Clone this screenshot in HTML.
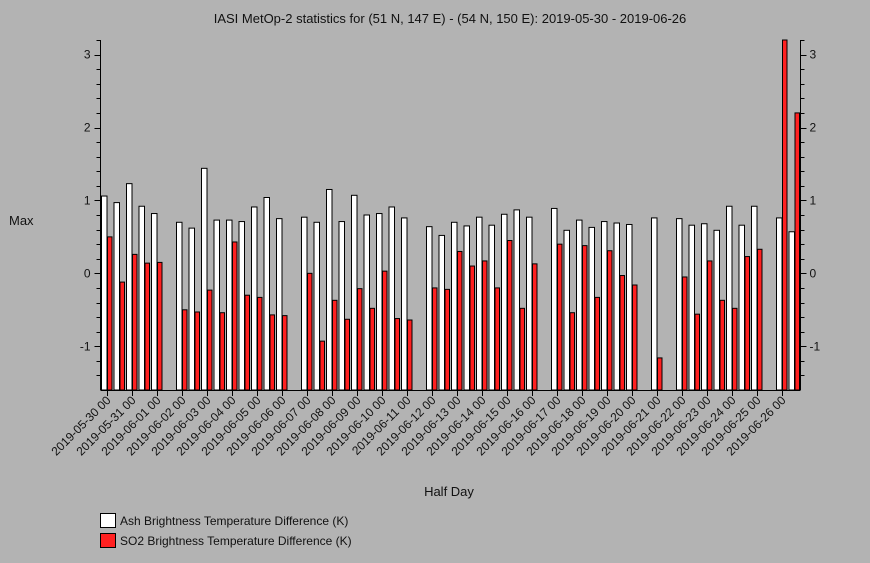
<!DOCTYPE html>
<html><head><meta charset="utf-8"><style>
body{margin:0;background:#b3b3b3;}
svg{display:block;font-family:"Liberation Sans",sans-serif;}
</style></head><body>
<svg id="chart" width="870" height="563">
<rect width="870" height="563" fill="#b3b3b3"/>
<text x="450" y="23" text-anchor="middle" font-size="13" fill="#111">IASI MetOp-2 statistics for (51 N, 147 E) - (54 N, 150 E): 2019-05-30 - 2019-06-26</text>
<text x="9" y="225" font-size="13" fill="#111">Max</text>
<text x="449" y="496" text-anchor="middle" font-size="13" fill="#111">Half Day</text>
<g id="bars"></g>
<g id="axes"></g>
<g>
<rect x="100.5" y="513.5" width="15" height="14" fill="#fff" stroke="#000"/>
<text x="120" y="525" font-size="12" fill="#111">Ash Brightness Temperature Difference (K)</text>
<rect x="100.5" y="533.5" width="15" height="14" fill="#ff2020" stroke="#000"/>
<text x="120" y="545" font-size="12" fill="#111">SO2 Brightness Temperature Difference (K)</text>
</g>
</svg>
<script>
const ashValues=[1.06,0.97,1.23,0.92,0.82,null,0.70,0.62,1.44,0.73,0.73,0.71,0.91,1.04,0.75,null,0.77,0.70,1.15,0.71,1.07,0.80,0.82,0.91,0.76,null,0.64,0.52,0.70,0.65,0.77,0.66,0.81,0.87,0.77,null,0.89,0.59,0.73,0.63,0.71,0.69,0.67,null,0.76,null,0.75,0.66,0.68,0.59,0.92,0.66,0.92,null,0.76,0.57];
const so2Values=[0.50,-0.12,0.26,0.14,0.15,null,-0.50,-0.53,-0.23,-0.54,0.43,-0.30,-0.33,-0.57,-0.58,null,0.0,-0.93,-0.37,-0.63,-0.21,-0.48,0.03,-0.62,-0.64,null,-0.20,-0.22,0.30,0.10,0.17,-0.20,0.45,-0.48,0.13,null,0.40,-0.54,0.38,-0.33,0.31,-0.03,-0.16,null,-1.16,null,-0.05,-0.56,0.17,-0.37,-0.48,0.23,0.33,null,3.3,2.2];
const dayLabels=["2019-05-30 00","2019-05-31 00","2019-06-01 00","2019-06-02 00","2019-06-03 00","2019-06-04 00","2019-06-05 00","2019-06-06 00","2019-06-07 00","2019-06-08 00","2019-06-09 00","2019-06-10 00","2019-06-11 00","2019-06-12 00","2019-06-13 00","2019-06-14 00","2019-06-15 00","2019-06-16 00","2019-06-17 00","2019-06-18 00","2019-06-19 00","2019-06-20 00","2019-06-21 00","2019-06-22 00","2019-06-23 00","2019-06-24 00","2019-06-25 00","2019-06-26 00"];
const yTicks=[-1,0,1,2,3];
const NS="http://www.w3.org/2000/svg";
const L=100.5,R=800.5,T=40,B=390,yMin=-1.6,yMax=3.2;
const slotW=(R-L)/ashValues.length;
function xS(i){return 101+slotW*i;}
function yS(v){return B-(v-yMin)/(yMax-yMin)*(B-T);}
function mk(tag,attrs,parent){const e=document.createElementNS(NS,tag);for(const k in attrs)e.setAttribute(k,attrs[k]);parent.appendChild(e);return e;}
const bars=document.getElementById('bars'),axes=document.getElementById('axes');
ashValues.forEach((v,i)=>{
  if(v===null)return;
  const y=Math.max(T,yS(v));
  const r=mk('rect',{x:xS(i)+0.5,y:y,width:5.5,height:B-y,fill:'#fff',stroke:'#000','stroke-width':1},bars);
  
  
});
so2Values.forEach((v,i)=>{
  if(v===null)return;
  const y=Math.max(T,yS(v));
  const r=mk('rect',{x:xS(i)+6.5,y:y,width:4.5,height:B-y,fill:'#ff2020',stroke:'#000','stroke-width':1},bars);
  
  
});
mk('line',{x1:L,y1:T,x2:L,y2:B,stroke:'#000'},axes);
mk('line',{x1:R,y1:T,x2:R,y2:B,stroke:'#000'},axes);
mk('line',{x1:L,y1:B+0.5,x2:R,y2:B+0.5,stroke:'#000'},axes);
for(let k=-8;k<=16;k++){
  const v=k*0.2,y=Math.round(yS(v))+0.5;
  if(y<T||y>B)continue;
  const major=Math.abs(v-Math.round(v))<1e-6;
  const len=major?6:4;
  mk('line',{x1:L-len,y1:y,x2:L,y2:y,stroke:'#000'},axes);
  mk('line',{x1:R,y1:y,x2:R+len,y2:y,stroke:'#000'},axes);
}
yTicks.forEach(v=>{
  const y=yS(v)+4;
  const t1=mk('text',{x:L-10,y:y,'text-anchor':'end','font-size':12,fill:'#111'},axes);
  t1.textContent=v;
  
  
  const t2=mk('text',{x:R+9,y:y,'font-size':12,fill:'#111'},axes);
  t2.textContent=v;
  
  
});
dayLabels.forEach((lab,d)=>{
  const x=Math.round(xS(d*2)+6)+0.5;
  mk('line',{x1:x,y1:B,x2:x,y2:B+6,stroke:'#000'},axes);
  const t=mk('text',{x:x+4,y:B+11,'text-anchor':'end','font-size':12,fill:'#111',transform:`rotate(-45 ${x+4} ${B+11})`},axes);
  t.textContent=lab;
  
  
});
</script>
</body></html>
